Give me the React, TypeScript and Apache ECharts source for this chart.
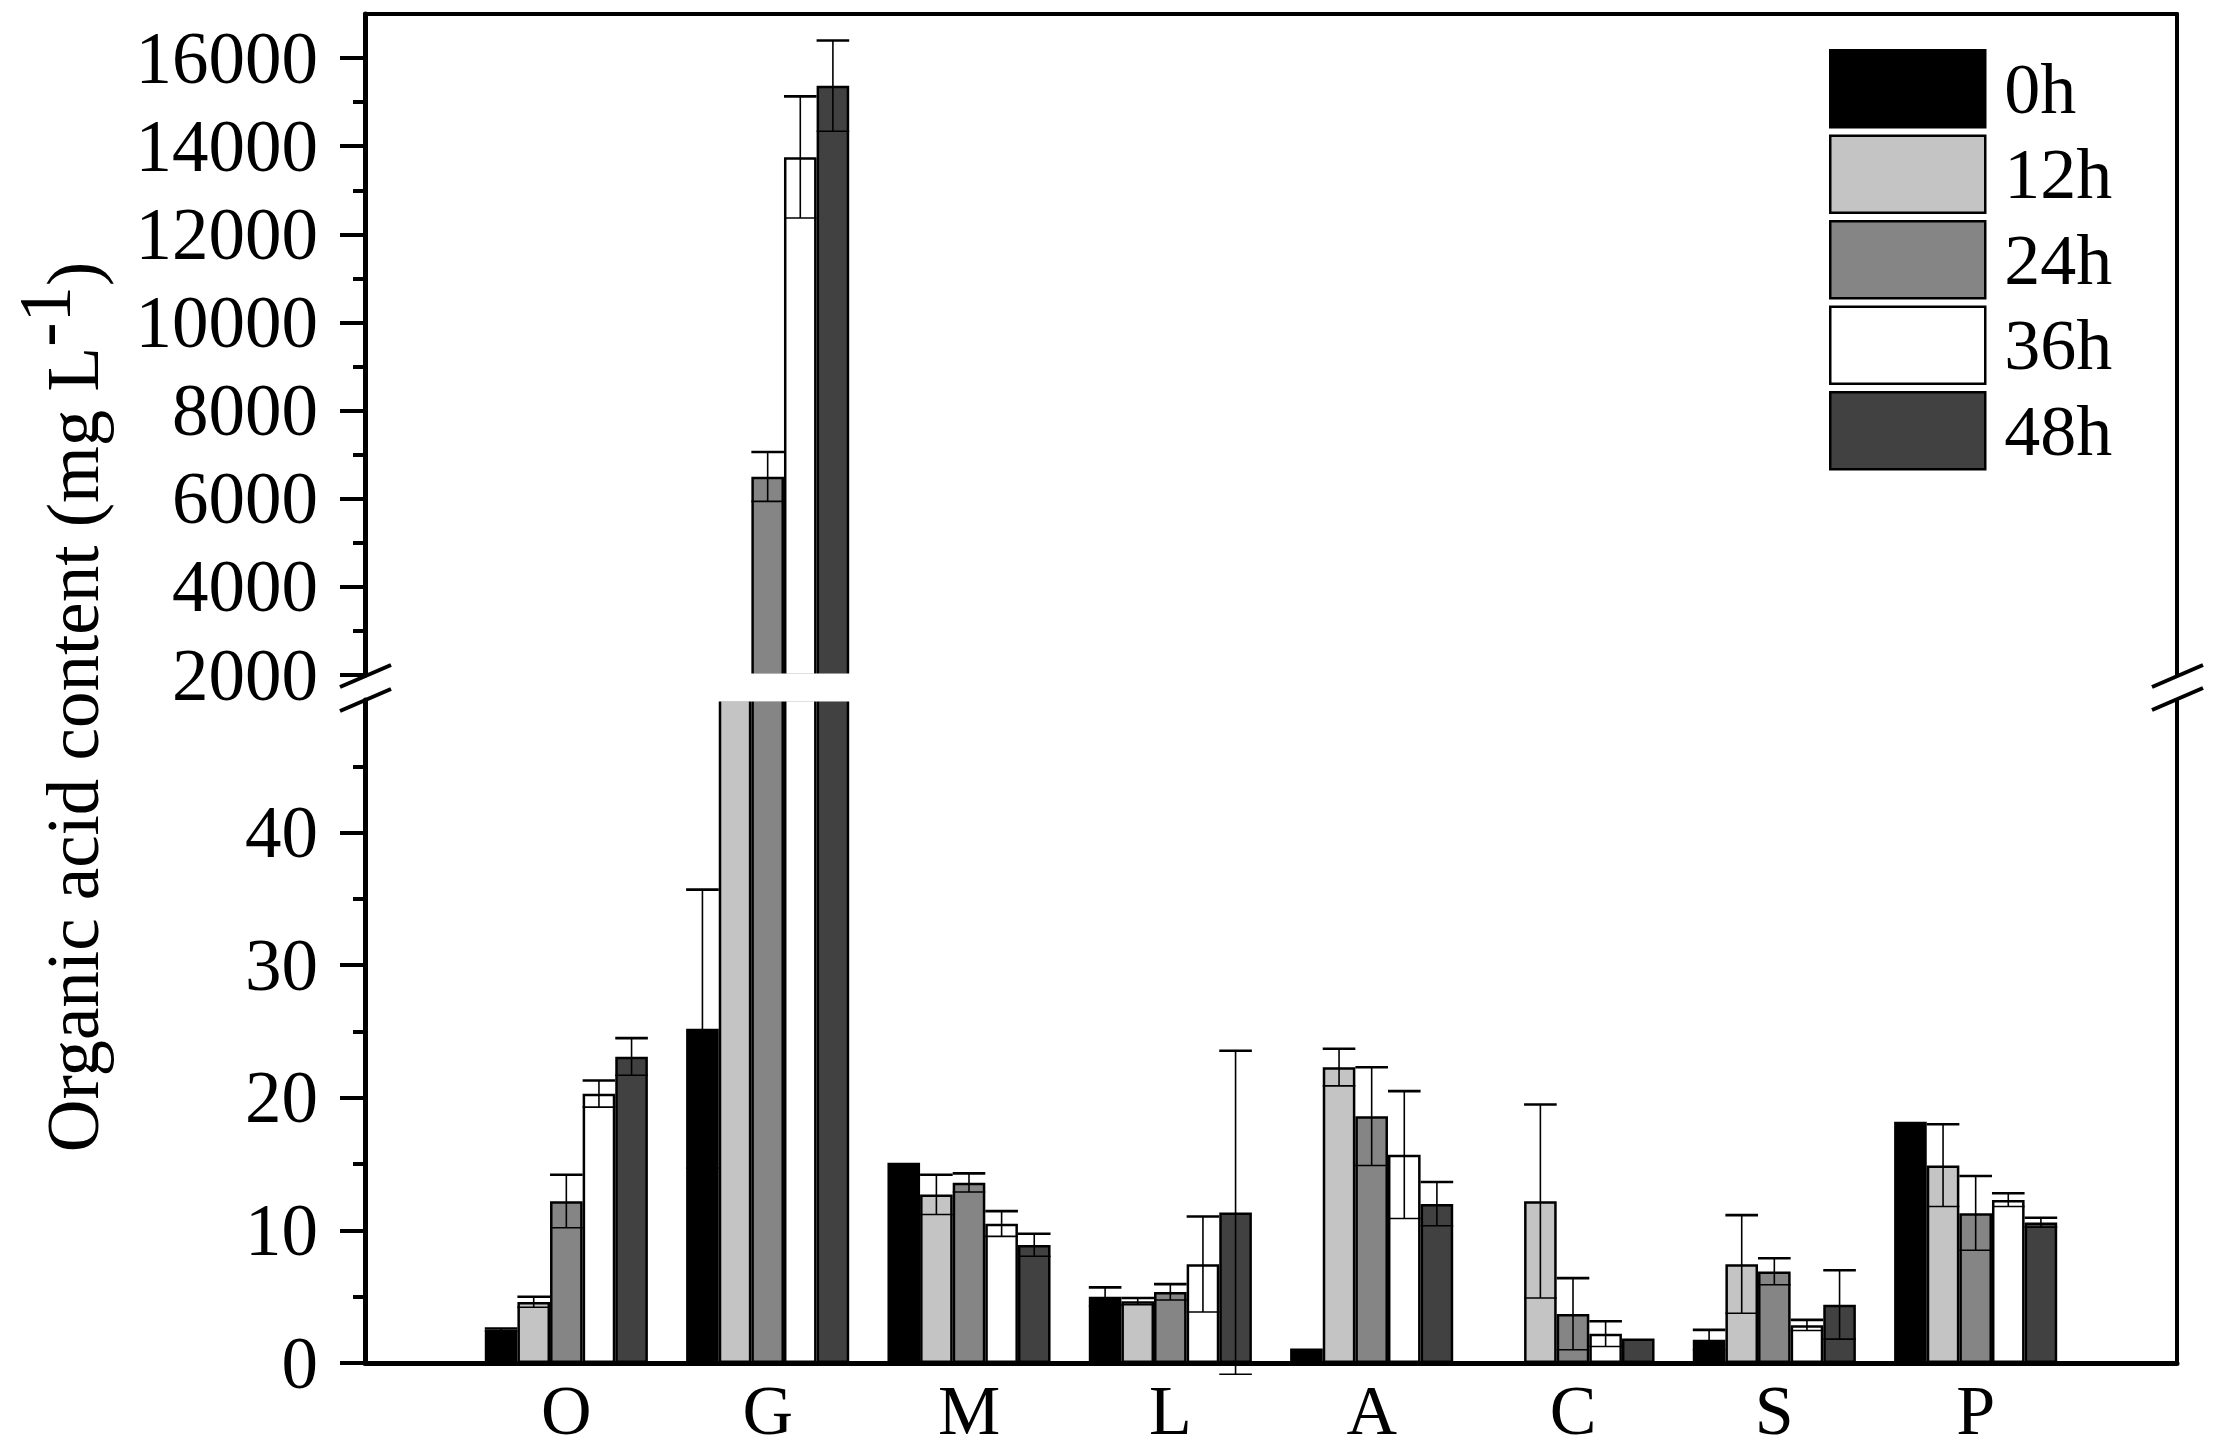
import React, { useEffect, useRef } from "react";
import * as echarts from "echarts";

const FONT = "Liberation Serif";

// categories (index 0 and 9 are empty padding slots on the axis)
const categories = ["O", "G", "M", "L", "A", "C", "S", "P"];
const seriesNames = ["0h", "12h", "24h", "36h", "48h"];
const seriesColors = ["#000000", "#c4c4c4", "#858585", "#ffffff", "#414141"];

// mean values (mg L-1)
const h0 = [2.5, 25.2, 15.1, 5.0, 1.1, 0, 1.75, 18.2];
const h12 = [4.6, 1200, 12.7, 4.65, 22.3, 12.2, 7.45, 14.9];
const h24 = [12.2, 6500, 13.6, 5.35, 18.6, 3.7, 6.9, 11.3];
const h36 = [20.3, 13750, 10.5, 7.45, 15.7, 2.2, 2.85, 12.3];
const h48 = [23.1, 15370, 8.9, 11.35, 12.0, 1.85, 4.4, 10.6];

// standard deviations
const h0err = [0.1, 10.5, 0, 0.7, 0, 0, 0.75, 0];
const h12err = [0.4, 150, 1.5, 0.25, 1.4, 7.3, 3.7, 3.1];
const h24err = [2.0, 560, 0.7, 0.6, 3.7, 2.7, 1.0, 2.8];
const h36err = [1.0, 1380, 0.95, 3.6, 4.8, 0.95, 0.4, 0.5];
const h48err = [1.4, 1030, 0.85, 12.2, 1.65, 0, 2.6, 0.35];

// axis ticks
const lowerMajor = [0, 10, 20, 30, 40];
const lowerMinor = [5, 15, 25, 35, 45];
const upperMajor = [2000, 4000, 6000, 8000, 10000, 12000, 14000, 16000];
const upperMinor = [3000, 5000, 7000, 9000, 11000, 13000, 15000];
const lowerRange = [0, 50];
const upperRange = [2000, 17000];

const values = [h0, h12, h24, h36, h48];
const errors = [h0err, h12err, h24err, h36err, h48err];

const BAR_FRAC = 0.162;
const axisCats = ["", ...categories, ""];

// layout
const W = 2217;
const H = 1456;
const LEFT = 365;
const RIGHT_X = 2177;
const UP_TOP = 14;
const UP_BOTTOM = 675;
const LOW_TOP = 700;
const LOW_BOTTOM = 1363;

function makeErrSeries(sIdx: number, xAxisIndex: number, yAxisIndex: number, data: number[][]) {
  return {
    type: "custom",
    name: "err-" + seriesNames[sIdx],
    xAxisIndex,
    yAxisIndex,
    z: 5,
    encode: { x: 0, y: 1 },
    data,
    renderItem: (params: any, api: any) => {
      const cat = api.value(0);
      const v = api.value(1);
      const e = api.value(2);
      if (!e) return { type: "group", children: [] };
      const x0 = api.coord([0, v])[0];
      const x9 = api.coord([9, v])[0];
      const band = (x9 - x0) / 9;
      const bw = band * BAR_FRAC;
      const cx = api.coord([cat, v])[0] + (sIdx - 2) * bw;
      const yt = api.coord([cat, v + e])[1];
      const yb = api.coord([cat, v - e])[1];
      return {
        type: "group",
        children: [
          { type: "line", shape: { x1: cx, y1: yt, x2: cx, y2: yb }, style: { stroke: "#000", lineWidth: 1.6 } },
          { type: "line", shape: { x1: cx - bw / 2, y1: yt, x2: cx + bw / 2, y2: yt }, style: { stroke: "#000", lineWidth: 2.6 } },
          { type: "line", shape: { x1: cx - bw / 2, y1: yb, x2: cx + bw / 2, y2: yb }, style: { stroke: "#000", lineWidth: 1.6 } },
        ],
      };
    },
  };
}

function buildOption() {
  const series: any[] = [];
  // lower grid bars
  values.forEach((arr, s) => {
    series.push({
      type: "bar",
      name: seriesNames[s],
      xAxisIndex: 0,
      yAxisIndex: 0,
      barWidth: BAR_FRAC * 100 + "%",
      barGap: "0%",
      itemStyle: { color: seriesColors[s], borderColor: "#000", borderWidth: 2.5 },
      data: arr.map((v, i) => [i + 1, v]),
    });
  });
  // upper grid bars
  values.forEach((arr, s) => {
    series.push({
      type: "bar",
      name: seriesNames[s],
      xAxisIndex: 1,
      yAxisIndex: 3,
      barWidth: BAR_FRAC * 100 + "%",
      barGap: "0%",
      itemStyle: { color: seriesColors[s], borderColor: "#000", borderWidth: 2.5 },
      data: arr.map((v, i) => [i + 1, v >= upperRange[0] ? v : "-"]),
    });
  });
  // error bars
  values.forEach((arr, s) => {
    const low = arr
      .map((v, i) => [i + 1, v, errors[s][i]])
      .filter((d) => d[1] <= lowerRange[1]);
    const up = arr
      .map((v, i) => [i + 1, v, errors[s][i]])
      .filter((d) => d[1] >= upperRange[0]);
    series.push(makeErrSeries(s, 0, 0, low));
    series.push(makeErrSeries(s, 1, 3, up));
  });

  const labelStyle = { fontFamily: FONT, fontSize: 72, color: "#000" };
  const tickStyle = { fontFamily: FONT, fontSize: 73, color: "#000" };
  const plain = (v: number) => String(v);
  const hiddenY = (grid: number, range: number[], position: string) => ({
    type: "value",
    gridIndex: grid,
    position,
    min: range[0],
    max: range[1],
    axisLine: { show: true, lineStyle: { color: "#000", width: 4 } },
    axisTick: { show: false },
    axisLabel: { show: false },
    splitLine: { show: false },
  });

  const slash = (cx: number, cy: number) => ({
    type: "line",
    z: 60,
    shape: { x1: cx - 25, y1: cy + 11, x2: cx + 26, y2: cy - 11 },
    style: { stroke: "#000", lineWidth: 4 },
  });

  return {
    animation: false,
    backgroundColor: "#fff",
    grid: [
      { left: LEFT, right: W - RIGHT_X, top: LOW_TOP, bottom: H - LOW_BOTTOM },
      { left: LEFT, right: W - RIGHT_X, top: UP_TOP, bottom: H - UP_BOTTOM },
    ],
    legend: {
      data: seriesNames,
      orient: "vertical",
      left: 1829,
      top: 49,
      padding: 0,
      icon: "rect",
      itemWidth: 155,
      itemHeight: 77,
      itemGap: 6,
      selectedMode: false,
      itemStyle: { borderColor: "#000", borderWidth: 2.5 },
      textStyle: { ...labelStyle, padding: [0, 0, 0, 14] },
    },
    xAxis: [
      {
        type: "category",
        gridIndex: 0,
        data: axisCats,
        boundaryGap: false,
        position: "bottom",
        axisLine: { show: true, lineStyle: { color: "#000", width: 5 } },
        axisTick: { show: false },
        axisLabel: { ...labelStyle, fontSize: 70, interval: 0, margin: 18, lineHeight: 58 },
        splitLine: { show: false },
      },
      {
        type: "category",
        gridIndex: 1,
        data: axisCats,
        boundaryGap: false,
        position: "top",
        axisLine: { show: true, lineStyle: { color: "#000", width: 4 } },
        axisTick: { show: false },
        axisLabel: { show: false },
        splitLine: { show: false },
      },
    ],
    yAxis: [
      {
        type: "value",
        gridIndex: 0,
        position: "left",
        min: lowerRange[0],
        max: lowerRange[1],
        interval: 10,
        axisLine: { show: true, lineStyle: { color: "#000", width: 5 } },
        axisTick: { show: true, customValues: lowerMajor, length: 25, lineStyle: { color: "#000", width: 4 } },
        axisLabel: { ...tickStyle, customValues: lowerMajor, margin: 47, formatter: plain },
        splitLine: { show: false },
      },
      {
        type: "value",
        gridIndex: 0,
        position: "left",
        min: lowerRange[0],
        max: lowerRange[1],
        axisLine: { show: false },
        axisTick: { show: true, customValues: lowerMinor, length: 12, lineStyle: { color: "#000", width: 4 } },
        axisLabel: { show: false },
        splitLine: { show: false },
      },
      hiddenY(0, lowerRange, "right"),
      {
        type: "value",
        gridIndex: 1,
        position: "left",
        min: upperRange[0],
        max: upperRange[1],
        interval: 1000,
        axisLine: { show: true, lineStyle: { color: "#000", width: 5 } },
        axisTick: { show: true, customValues: upperMajor, length: 25, lineStyle: { color: "#000", width: 4 } },
        axisLabel: { ...tickStyle, customValues: upperMajor, margin: 47, formatter: plain },
        splitLine: { show: false },
      },
      {
        type: "value",
        gridIndex: 1,
        position: "left",
        min: upperRange[0],
        max: upperRange[1],
        axisLine: { show: false },
        axisTick: { show: true, customValues: upperMinor, length: 12, lineStyle: { color: "#000", width: 4 } },
        axisLabel: { show: false },
        splitLine: { show: false },
      },
      hiddenY(1, upperRange, "right"),
    ],
    graphic: {
      elements: [
        {
          type: "rect",
          z: 50,
          shape: { x: LEFT + 3, y: UP_BOTTOM - 1.5, width: RIGHT_X - LEFT - 5, height: LOW_TOP - UP_BOTTOM + 3 },
          style: { fill: "#fff" },
        },
        slash(LEFT, UP_BOTTOM + 1),
        slash(LEFT, LOW_TOP),
        slash(RIGHT_X, UP_BOTTOM + 1),
        slash(RIGHT_X, LOW_TOP - 1),
        {
          type: "text",
          z: 60,
          x: 59,
          y: 707,
          rotation: Math.PI / 2,
          style: {
            text: "{n|Organic acid content (mg L}{s|-1}{n|)}",
            rich: {
              n: { fontFamily: FONT, fontSize: 73, fill: "#000", verticalAlign: "bottom" },
              s: { fontFamily: FONT, fontSize: 73, fill: "#000", verticalAlign: "bottom", padding: [0, 0, 28, 0] },
            },
            align: "center",
            verticalAlign: "middle",
          },
        },
      ],
    },
    series,
  };
}

export default function App() {
  const ref = useRef<HTMLDivElement>(null);
  useEffect(() => {
    document.body.style.margin = "0";
    if (!ref.current) return;
    const chart = echarts.init(ref.current, null, { renderer: "svg" });
    chart.setOption(buildOption() as any);
    return () => chart.dispose();
  }, []);
  return <div ref={ref} style={{ width: W, height: H, background: "#fff" }} />;
}
